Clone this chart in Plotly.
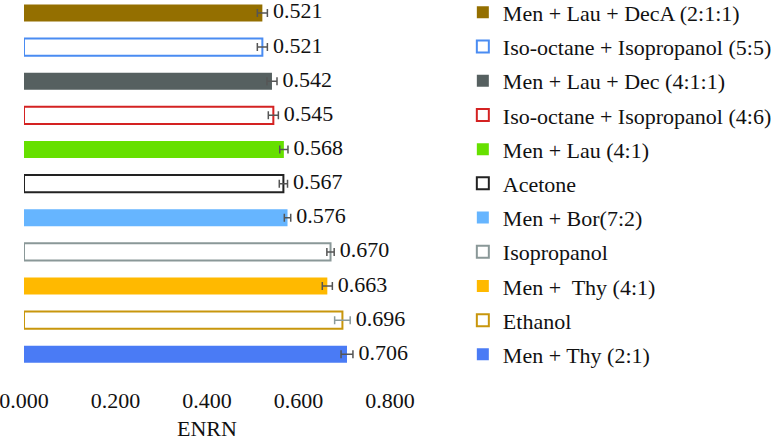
import plotly.graph_objects as go

categories = [
    "Men + Lau + DecA (2:1:1)",
    "Iso-octane + Isopropanol (5:5)",
    "Men + Lau + Dec (4:1:1)",
    "Iso-octane + Isopropanol (4:6)",
    "Men + Lau (4:1)",
    "Acetone",
    "Men + Bor(7:2)",
    "Isopropanol",
    "Men +\u00a0 Thy (4:1)",
    "Ethanol",
    "Men + Thy (2:1)",
]
values = [0.521, 0.521, 0.542, 0.545, 0.568, 0.567, 0.576, 0.670, 0.663, 0.696, 0.706]
errors = [0.011, 0.011, 0.011, 0.011, 0.009, 0.009, 0.007, 0.008, 0.011, 0.017, 0.013]
labels = ["0.521", "0.521", "0.542", "0.545", "0.568", "0.567", "0.576", "0.670", "0.663", "0.696", "0.706"]
tick_vals = [0, 0.2, 0.4, 0.6, 0.8]
tick_text = ["0.000", "0.200", "0.400", "0.600", "0.800"]
colors = ["#946F00", "#4A8CF2", "#566060", "#D42222", "#66E000", "#222222",
          "#66B5FF", "#8A9898", "#FFB900", "#C8960C", "#4A7BF5"]
hollow = [False, True, False, True, False, True, False, True, False, True, False]
err_colors = ["#555555"] * 9 + ["#8A9A9A", "#555555"]

FONT = "Liberation Serif, Times New Roman, serif"
FS = 22
LFS = 22

fig = go.Figure()
for i, cat in enumerate(categories):
    fill = "white" if hollow[i] else colors[i]
    fig.add_trace(go.Bar(
        orientation="h",
        y=[cat], x=[values[i]],
        name=cat,
        legendgroup=f"g{i}",
        marker=dict(color=fill, line=dict(color=colors[i], width=2 if hollow[i] else 0)),
        error_x=dict(type="data", array=[errors[i]], color=err_colors[i], thickness=1.5, width=4),
        width=0.5,
    ))

fig.add_trace(go.Scatter(
    y=categories,
    x=[v + e for v, e in zip(values, errors)],
    mode="text",
    text=labels,
    texttemplate="\u00a0%{text}",
    textposition="middle right",
    textfont=dict(family=FONT, size=FS, color="#111111"),
    cliponaxis=False,
    showlegend=False,
    hoverinfo="skip",
))

fig.update_layout(
    width=773, height=441,
    margin=dict(l=24, r=383, t=0, b=56, autoexpand=False),
    paper_bgcolor="white", plot_bgcolor="white",
    barmode="overlay",
    font=dict(family=FONT, size=FS, color="#111111"),
    legend=dict(
        x=1.199, xanchor="left", y=1.022, yanchor="top",
        font=dict(family=FONT, size=LFS, color="#111111"),
        tracegroupgap=2.6,
        bgcolor="rgba(0,0,0,0)",
        itemwidth=30,
        maxheight=600,
    ),
    xaxis=dict(
        range=[0, 0.8], tickvals=tick_vals, ticktext=tick_text,
        showgrid=False, zeroline=False, showline=False, ticks="",
        automargin=False, ticklabeloverflow="allow",
        title=dict(text="ENRN", font=dict(family=FONT, size=FS), standoff=12),
        tickfont=dict(family=FONT, size=FS),
    ),
    yaxis=dict(
        type="category", categoryorder="array", categoryarray=categories,
        range=[10.9, -0.38], automargin=False,
        showticklabels=False, showgrid=False, zeroline=False, showline=False, ticks="",
    ),
)

fig.write_html("out.html", config={"displayModeBar": False},
               post_script="document.body.style.margin='0';")
